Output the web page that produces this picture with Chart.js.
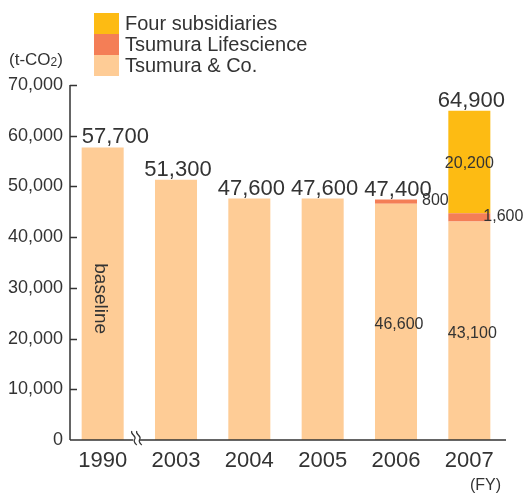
<!DOCTYPE html>
<html>
<head>
<meta charset="utf-8">
<script src="https://cdn.jsdelivr.net/npm/chart.js@4.4.1/dist/chart.umd.min.js"></script>
<style>
body { margin: 0; background: #fff; }
#wrap { position: relative; width: 526px; height: 493px; font-family: "Liberation Sans", Arial, sans-serif; color: #333; }
#legend { position: absolute; left: 94px; top: 13px; }
.row { height: 21px; display: flex; align-items: center; }
.box { width: 25px; height: 21px; }
.lbl { margin-left: 6px; font-size: 20px; line-height: 21px; }
#unit { position: absolute; left: 9px; top: 50px; font-size: 17px; }
#unit sub { font-size: 12px; vertical-align: baseline; position: relative; top: 1px; }
#fy { position: absolute; left: 470px; top: 476px; font-size: 16px; }
</style>
</head>
<body>
<div id="wrap">
  <canvas id="co2Chart" width="526" height="493"></canvas>
  <div id="legend"></div>
  <div id="unit">(t-CO<sub>2</sub>)</div>
  <div id="fy">(FY)</div>
</div>
<script>
// data
var years = ["1990", "2003", "2004", "2005", "2006", "2007"];
var tsumuraCo = [57700, 51300, 47600, 47600, 46600, 43100];
var lifescience = [0, 0, 0, 0, 800, 1600];
var subsidiaries = [0, 0, 0, 0, 0, 20200];
var totals = [57700, 51300, 47600, 47600, 47400, 64900];
var notes = ["baseline", "", "", "", "", ""];
var yMax = 70000;
var yStep = 10000;

var colCo = "#FECC96";
var colLife = "#F47E56";
var colSub = "#FDBB13";
var textCol = "#333333";
var fontName = "'Liberation Sans', Arial, sans-serif";

// legend (top entry first, like the picture)
var legendItems = [
    ["Four subsidiaries", colSub],
    ["Tsumura Lifescience", colLife],
    ["Tsumura & Co.", colCo]
];
var lg = document.getElementById("legend");
legendItems.forEach(function (it) {
    lg.innerHTML += "<div class='row'><div class='box' style='background:" + it[1] + "'></div><div class='lbl'>" + it[0] + "</div></div>";
});

function fmt(v) {
    return v.toLocaleString("en-US");
}

var drawExtras = {
    id: "drawExtras",
    afterDatasetsDraw: function (chart) {
        var ctx = chart.ctx;
        var area = chart.chartArea;
        var xs = chart.scales.x;
        var ys = chart.scales.y;
        var axisX = area.left + 4;
        ctx.save();
        ctx.strokeStyle = textCol;
        ctx.lineWidth = 1.5;

        // y axis + inward ticks
        ctx.beginPath();
        ctx.moveTo(axisX, ys.getPixelForValue(yMax));
        ctx.lineTo(axisX, area.bottom);
        for (var v = yStep; v <= yMax; v += yStep) {
            var py = Math.round(ys.getPixelForValue(v)) + 0.5;
            ctx.moveTo(axisX, py);
            ctx.lineTo(axisX + 7, py);
        }
        // x axis
        ctx.moveTo(axisX, area.bottom);
        ctx.lineTo(area.right, area.bottom);
        ctx.stroke();

        // axis break between 1990 and 2003
        var bx = (xs.getPixelForValue(0) + xs.getPixelForValue(1)) / 2 - 3;
        var by = area.bottom - 2;
        ctx.fillStyle = "#fff";
        ctx.fillRect(bx - 3, by - 1, 6, 5);
        ctx.lineWidth = 1.2;
        [-2.5, 2.5].forEach(function (dx) {
            var x0 = bx + dx;
            ctx.beginPath();
            ctx.moveTo(x0 - 2, by - 7);
            ctx.bezierCurveTo(x0 - 4, by - 4, x0 + 3, by - 2, x0 + 1, by + 1);
            ctx.bezierCurveTo(x0 - 1, by + 4, x0 + 2, by + 6, x0 + 3, by + 7);
            ctx.stroke();
        });

        var metaCo = chart.getDatasetMeta(0);
        var metaLife = chart.getDatasetMeta(1);
        var metaSub = chart.getDatasetMeta(2);
        ctx.fillStyle = textCol;

        years.forEach(function (y, i) {
            var bar = metaCo.data[i];
            var cx = bar.x;
            var half = bar.width / 2;

            // totals on top; keep clear of the y axis
            ctx.font = "22px " + fontName;
            ctx.textBaseline = "alphabetic";
            var txt = fmt(totals[i]);
            var tw = ctx.measureText(txt).width;
            var ty = ys.getPixelForValue(totals[i]) - 4;
            if (cx + 2 - tw / 2 < axisX + 8) {
                ctx.textAlign = "left";
                ctx.fillText(txt, cx - half, ty);
            } else {
                ctx.textAlign = "center";
                ctx.fillText(txt, cx + 2, ty);
            }

            var multi = lifescience[i] > 0 || subsidiaries[i] > 0;
            ctx.font = "16px " + fontName;
            ctx.textBaseline = "middle";
            if (multi) {
                ctx.textAlign = "center";
                ctx.fillText(fmt(tsumuraCo[i]), cx + 3, (bar.y + bar.base) / 2 + 3);
            }
            if (lifescience[i] > 0) {
                var lb = metaLife.data[i];
                ctx.textAlign = "left";
                var off = subsidiaries[i] > 0 ? -7 : 5;
                ctx.fillText(fmt(lifescience[i]), cx + half + off, (lb.y + lb.base) / 2 - 1);
            }
            if (subsidiaries[i] > 0) {
                var sb = metaSub.data[i];
                ctx.textAlign = "center";
                ctx.fillText(fmt(subsidiaries[i]), cx, (sb.y + sb.base) / 2 + 2);
            }
            if (notes[i]) {
                ctx.save();
                ctx.font = "19px " + fontName;
                ctx.translate(cx - 2, (bar.y + bar.base) / 2 + 5);
                ctx.rotate(Math.PI / 2);
                ctx.textAlign = "center";
                ctx.textBaseline = "middle";
                ctx.fillText(notes[i], 0, 0);
                ctx.restore();
            }
        });
        ctx.restore();
    }
};

var co2Canvas = document.getElementById("co2Chart");

var co2Chart = new Chart(co2Canvas, {
    type: "bar",
    data: {
        labels: years,
        datasets: [
            { label: "Tsumura & Co.", data: tsumuraCo, backgroundColor: colCo },
            { label: "Tsumura Lifescience", data: lifescience, backgroundColor: colLife },
            { label: "Four subsidiaries", data: subsidiaries, backgroundColor: colSub }
        ]
    },
    options: {
        responsive: false,
        animation: false,
        devicePixelRatio: 1,
        layout: { padding: { top: 85, right: 20, left: 0, bottom: 0 } },
        datasets: { bar: { barPercentage: 0.573, categoryPercentage: 1, borderWidth: 0 } },
        plugins: { legend: { display: false }, tooltip: { enabled: false } },
        scales: {
            x: {
                stacked: true,
                grid: { display: false, drawTicks: false },
                border: { display: false },
                ticks: { color: textCol, font: { family: fontName, size: 22 }, padding: 8 },
                afterFit: function (s) { s.height = 53; }
            },
            y: {
                stacked: true,
                min: 0,
                max: yMax,
                grid: { display: false, drawTicks: false },
                border: { display: false },
                ticks: {
                    stepSize: yStep,
                    color: textCol,
                    font: { family: fontName, size: 18 },
                    padding: 3,
                    callback: function (v) { return fmt(v); }
                },
                afterFit: function (s) { s.width = 66; }
            }
        }
    },
    plugins: [drawExtras]
});
</script>
</body>
</html>
